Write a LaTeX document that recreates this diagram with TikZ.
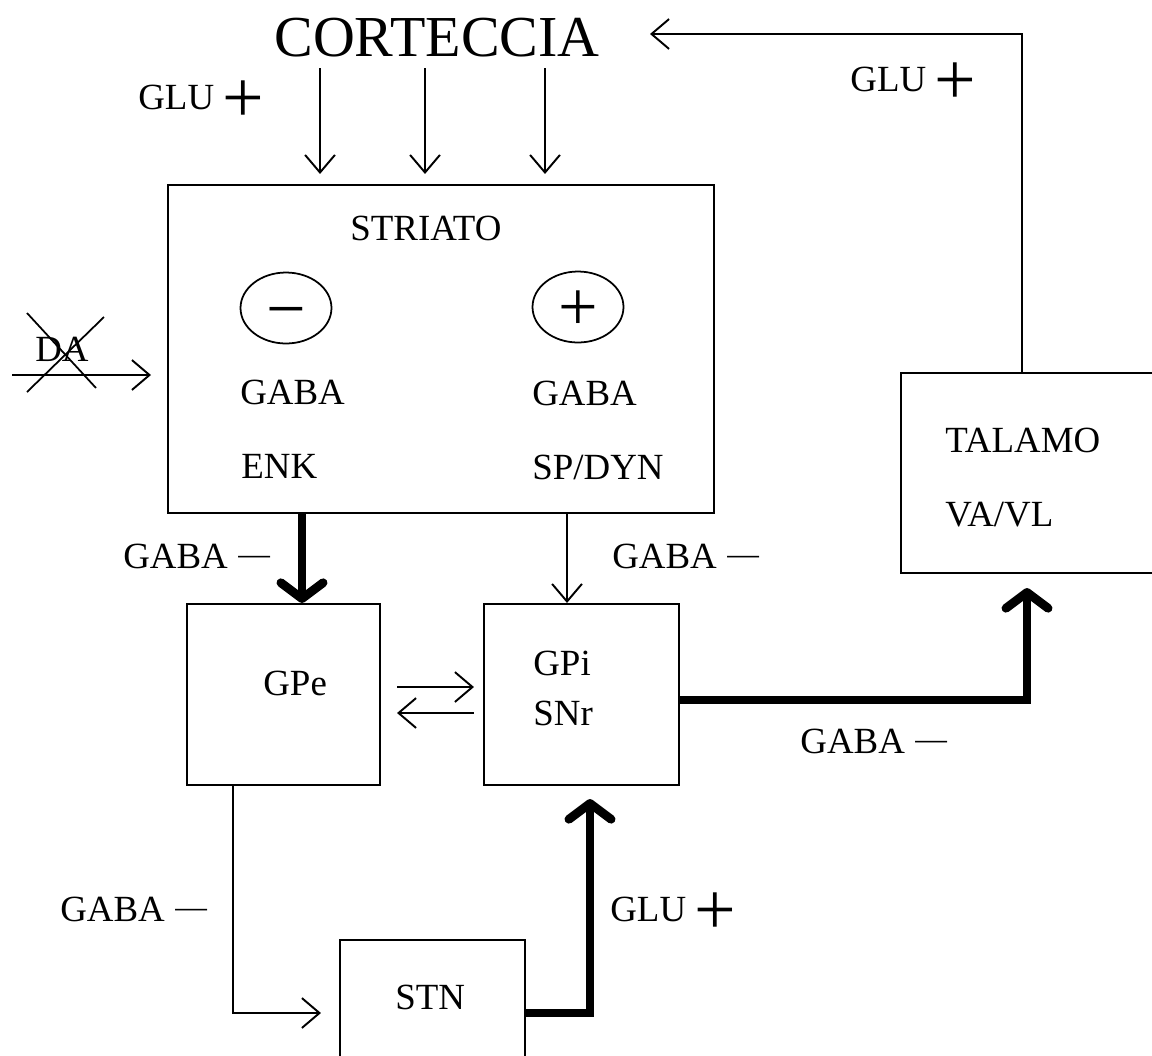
\documentclass[tikz,border=0pt]{standalone}
\usepackage{fontspec}
\setmainfont{Liberation Serif}
\usetikzlibrary{arrows.meta,shapes.geometric,calc}
\newcommand\labfont{\rmfamily\fontsize{21}{21}\selectfont}
\newcommand\plussign{\hspace{5pt}\raisebox{-7.5pt}{\rmfamily\fontsize{42}{42}\selectfont +}}
\newcommand\minussign{\hspace{6pt}\raisebox{1.8pt}{\rmfamily\fontsize{18}{18}\selectfont —}}
\begin{document}
\begin{tikzpicture}[x=0.02cm,y=-0.02cm,
  box/.style={draw,line width=1.2pt,rectangle,inner sep=0pt},
  ell/.style={draw,line width=1pt,ellipse,inner sep=0pt,minimum width=1.82cm,minimum height=1.42cm},
  sign/.style={inner sep=0pt,font=\fontsize{40}{40}\selectfont},
  lab/.style={font=\labfont,inner sep=0pt},
  labw/.style={font=\labfont,inner sep=0pt,anchor=west},
  thinarrow/.style={line width=1.1pt,-{Straight Barb[length=10pt,width=17pt]}},
  thickarrow/.style={line width=5pt,-{Straight Barb[length=9pt,width=24pt,round]}},
  crossline/.style={line width=1pt}]
\useasboundingbox (0,0) rectangle (1152,1055);
\clip (0,0) rectangle (1152,1055);

% boxes
\node[box,minimum width=10.92cm,minimum height=6.56cm] (striato) at (441,349) {};
\node[box,minimum width=3.86cm,minimum height=3.62cm] (gpe) at (283.5,694.5) {};
\node[box,minimum width=3.9cm,minimum height=3.62cm] (gpi) at (581.5,694.5) {};
\node[box,minimum width=5.38cm,minimum height=4cm] (talamo) at (1035.5,473) {};
\node[box,minimum width=3.7cm,minimum height=2.6cm] (stn) at (432.5,1005) {};

% texts
\node[inner sep=0pt,font=\fontsize{33}{33}\selectfont] (cortex) at (437,38) {CORTECCIA};
\node[labw] (striatotxt) at (350,228) {STRIATO};
\node[ell] (neg) at (286,308) {};
\node[sign] (negsign) at ([yshift=-0.24cm]neg.center) {−};
\node[ell] (pos) at (578,307) {};
\node[sign] (possign) at ([yshift=-0.08cm]pos.center) {+};
\node[labw] (gaba1) at (240,392) {GABA};
\node[labw] (enk) at (241,466) {ENK};
\node[labw] (gaba2) at (532,393) {GABA};
\node[labw] (spdyn) at (532,467) {SP/DYN};
\node[labw] (gpetxt) at (263,683) {GPe};
\node[labw] (gpitxt) at (533,663) {GPi};
\node[labw] (snrtxt) at (533,713) {SNr};
\node[labw] (taltxt) at (945,440) {TALAMO};
\node[labw] (vavltxt) at (945,515) {VA/VL};
\node[labw] (stntxt) at (395,997) {STN};
\node[lab] (da) at (62,349) {DA};

% labels
\node[lab,anchor=base west] (lglu1) at (138,109) {GLU\plussign};
\node[lab,anchor=base west] (lglu2) at (850,91) {GLU\plussign};
\node[lab,anchor=base west] (lglu3) at (610,921) {GLU\plussign};
\node[lab,anchor=base west] (lgaba1) at (123,568) {GABA\minussign};
\node[lab,anchor=base west] (lgaba2) at (612,568) {GABA\minussign};
\node[lab,anchor=base west] (lgaba3) at (800,753) {GABA\minussign};
\node[lab,anchor=base west] (lgaba4) at (60,921) {GABA\minussign};

% coordinates
\coordinate (c1) at (320,68);
\coordinate (c2) at (425,68);
\coordinate (c3) at (545,68);
\coordinate (t1) at (1022,34);
\coordinate (ctip) at (650,34);
\coordinate (da0) at (12,375);
\coordinate (s1) at (302,513);
\coordinate (s2) at (567,513);
\coordinate (e1) at (396,687);
\coordinate (e2) at (475,713);
\coordinate (g1) at (1027,700);
\coordinate (p1) at (233,1013);
\coordinate (q1) at (590,1013);

% connectors
\draw[thinarrow] (c1) -- ([yshift=0.2cm]c1 |- striato.north);
\draw[thinarrow] (c2) -- ([yshift=0.2cm]c2 |- striato.north);
\draw[thinarrow] (c3) -- ([yshift=0.2cm]c3 |- striato.north);
\draw[thinarrow] (t1 |- talamo.north) -- (t1) -- (ctip);
\draw[thinarrow] (da0) -- ([xshift=-0.32cm]da0 -| striato.west);
\draw[crossline] (27,313) -- (96,388);
\draw[crossline] (104,317) -- (27,392);
\draw[thickarrow] (s1 |- striato.south) -- (s1 |- gpe.north);
\draw[thinarrow] (s2 |- striato.south) -- (s2 |- gpi.north);
\draw[thinarrow] ([xshift=0.32cm]gpe.east |- e1) -- ([xshift=-0.18cm]gpi.west |- e1);
\draw[thinarrow] ([xshift=-0.18cm]gpi.west |- e2) -- ([xshift=0.32cm]gpe.east |- e2);
\draw[thickarrow] (gpi.east |- g1) -- (g1) -- ([yshift=-0.28cm]g1 |- talamo.south);
\draw[thinarrow] (gpe.south -| p1) -- (p1) -- ([xshift=-0.36cm]p1 -| stn.west);
\draw[thickarrow] (stn.east |- q1) -- (q1) -- ([yshift=-0.26cm]q1 |- gpi.south);
\end{tikzpicture}
\end{document}
